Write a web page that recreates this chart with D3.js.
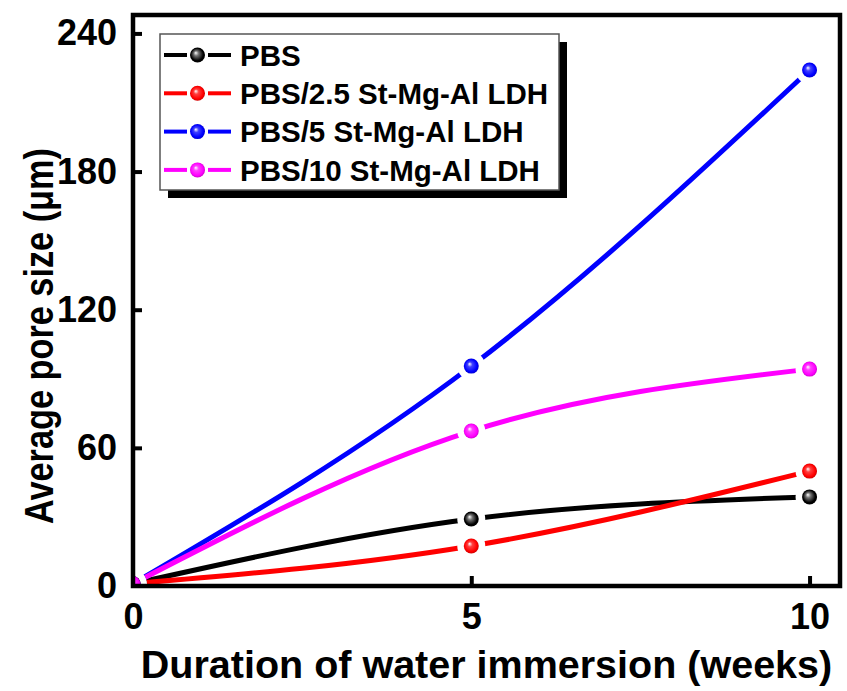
<!DOCTYPE html>
<html>
<head>
<meta charset="utf-8">
<script src="https://cdn.jsdelivr.net/npm/d3@7"></script>
<style>
  body { margin: 0; background: #fff; }
  svg { display: block; font-family: Arial, "Liberation Sans", sans-serif; font-weight: bold; }
</style>
</head>
<body>
<svg id="chart" width="847" height="691"></svg>
<script>
// weeks of immersion
var weeks = [0, 5, 10];
var seriesNames = ["PBS", "PBS/2.5 St-Mg-Al LDH", "PBS/5 St-Mg-Al LDH", "PBS/10 St-Mg-Al LDH"];
var seriesColors = ["#000000", "#ff0000", "#0000ff", "#ff00ff"];
// average pore size (um)
var pbs = [1, 29.1, 38.7];
var pbs25 = [1, 17.4, 49.9];
var pbs5 = [1, 95.5, 224.1];
var pbs10 = [1, 67.3, 94.2];
var xTicks = [0, 5, 10];
var yTicks = [0, 60, 120, 180, 240];

var allValues = [pbs, pbs25, pbs5, pbs10];

var svg = d3.select("#chart");
// plot box (note: "top" is taken by window.top)
var pLeft = 133, pRight = 840, pTop = 15, pBottom = 586;

var x = d3.scaleLinear().domain([0, 10.45]).range([pLeft, pRight]);
var y = d3.scaleLinear().domain([0, 248]).range([pBottom, pTop]);

var defs = svg.append("defs");

// shiny ball markers
seriesColors.forEach((c, i) => {
  var g = defs.append("radialGradient")
    .attr("id", "ball" + i)
    .attr("cx", "50%").attr("cy", "50%").attr("r", "55%")
    .attr("fx", "38%").attr("fy", "35%");
  g.append("stop").attr("offset", "0%").attr("stop-color", "#ffffff");
  g.append("stop").attr("offset", "30%").attr("stop-color", d3.interpolateRgb(c, "#fff")(c == "#000000" ? 0.45 : 0.25));
  g.append("stop").attr("offset", "75%").attr("stop-color", c);
  g.append("stop").attr("offset", "100%").attr("stop-color", d3.interpolateRgb(c, "#000")(0.25));
});

defs.append("clipPath").attr("id", "plotClip")
  .append("rect")
  .attr("x", pLeft).attr("y", pTop)
  .attr("width", pRight - pLeft).attr("height", pBottom - pTop);

// gaps around the symbols on each line
allValues.forEach((vals, i) => {
  var m = defs.append("mask").attr("id", "gap" + i).attr("maskUnits", "userSpaceOnUse")
    .attr("x", 0).attr("y", 0).attr("width", 847).attr("height", 691);
  m.append("rect").attr("width", 847).attr("height", 691).attr("fill", "#fff");
  m.selectAll("circle").data(vals).enter().append("circle")
    .attr("cx", (d, j) => x(weeks[j]))
    .attr("cy", d => y(d))
    .attr("r", 14)
    .attr("fill", "#000");
});

var line = d3.line()
  .x((d, j) => x(weeks[j]))
  .y(d => y(d))
  .curve(d3.curveNatural);

var plot = svg.append("g").attr("clip-path", "url(#plotClip)");

allValues.forEach((vals, i) => {
  plot.append("path")
    .datum(vals)
    .attr("d", line)
    .attr("fill", "none")
    .attr("stroke", seriesColors[i])
    .attr("stroke-width", 5)
    .attr("mask", "url(#gap" + i + ")");
});

allValues.forEach((vals, i) => {
  plot.selectAll(".pt" + i).data(vals).enter().append("circle")
    .attr("cx", (d, j) => x(weeks[j]))
    .attr("cy", d => y(d))
    .attr("r", 7.5)
    .attr("fill", "url(#ball" + i + ")");
});

// axes, ticks pointing inward
var yAxis = svg.append("g")
  .attr("transform", `translate(${pLeft},0)`)
  .call(d3.axisLeft(y).tickValues(yTicks).tickSize(-9).tickPadding(16));
var xAxis = svg.append("g")
  .attr("transform", `translate(0,${pBottom})`)
  .call(d3.axisBottom(x).tickValues(xTicks).tickSize(-10).tickPadding(17));

[xAxis, yAxis].forEach(a => {
  a.select(".domain").remove();
  a.selectAll("line").attr("stroke", "#000").attr("stroke-width", 4);
  a.selectAll("text")
    .attr("fill", "#000")
    .style("font-size", "36px")
    .style("font-family", 'Arial, "Liberation Sans", sans-serif')
    .style("font-weight", "bold");
});
xAxis.selectAll(".tick").filter(d => d == 0).select("line").remove();
yAxis.selectAll(".tick").filter(d => d == 0).select("line").remove();

// frame
svg.append("rect")
  .attr("x", pLeft).attr("y", pTop)
  .attr("width", pRight - pLeft).attr("height", pBottom - pTop)
  .attr("fill", "none")
  .attr("stroke", "#000")
  .attr("stroke-width", 4.5);

// axis titles
svg.append("text")
  .attr("x", (pLeft + pRight) / 2)
  .attr("y", 678)
  .attr("text-anchor", "middle")
  .style("font-size", "39.5px")
  .text("Duration of water immersion (weeks)");

// y title is a bit condensed in the original
svg.append("text")
  .attr("transform", "translate(53,336) rotate(-90)")
  .attr("text-anchor", "middle")
  .attr("textLength", 376)
  .attr("lengthAdjust", "spacingAndGlyphs")
  .style("font-size", "41px")
  .text("Average pore size (\u03bcm)");

// legend with drop shadow
var lg = svg.append("g").attr("transform", "translate(160,34)");
var lw = 399, lh = 156;
lg.append("rect").attr("x", 8).attr("y", 8).attr("width", lw).attr("height", lh).attr("fill", "#000");
lg.append("rect").attr("width", lw).attr("height", lh)
  .attr("fill", "#fff").attr("stroke", "#555").attr("stroke-width", 1.5);

var rows = lg.selectAll(".row").data(seriesNames).enter().append("g")
  .attr("transform", (d, i) => `translate(0,${21 + i * 38.3})`);
rows.append("line").attr("x1", 4).attr("x2", 27).attr("stroke", (d, i) => seriesColors[i]).attr("stroke-width", 4);
rows.append("line").attr("x1", 48).attr("x2", 71).attr("stroke", (d, i) => seriesColors[i]).attr("stroke-width", 4);
rows.append("circle").attr("cx", 37.5).attr("r", 7.5).attr("fill", (d, i) => "url(#ball" + i + ")");
rows.append("text")
  .attr("x", 80)
  .attr("dy", "0.36em")
  .style("font-size", "29.5px")
  .text(d => d);
</script>
</body>
</html>
